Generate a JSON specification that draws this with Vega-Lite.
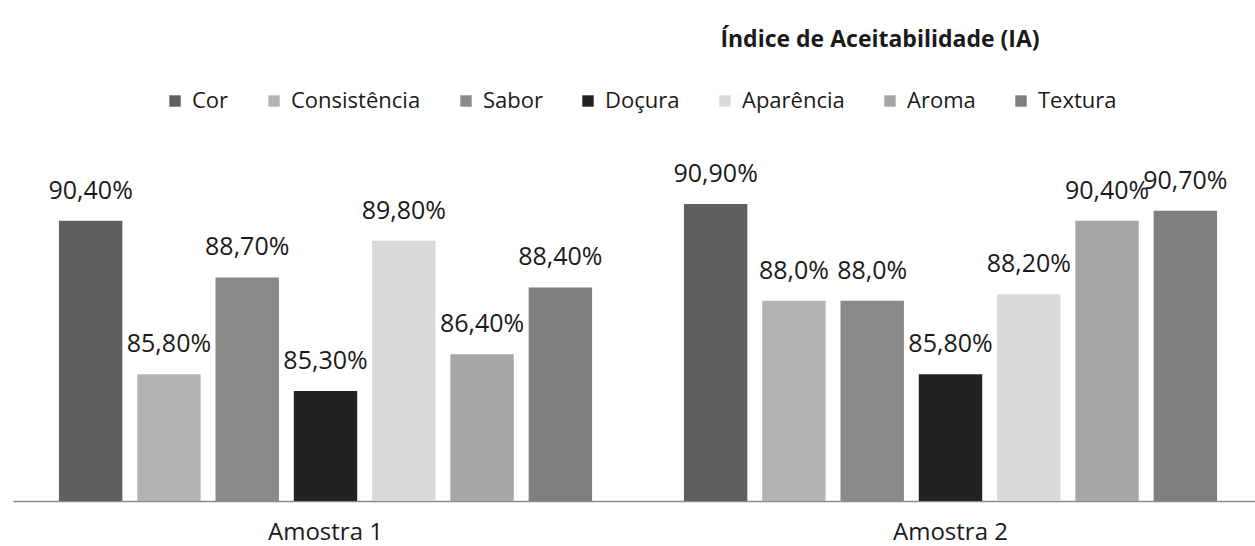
{
  "$schema": "https://vega.github.io/schema/vega-lite/v6.json",
  "width": 1250,
  "height": 367,
  "autosize": {"type": "none"},
  "padding": {"left": 13, "top": 134, "right": 0, "bottom": 45},
  "background": "white",
  "title": {
    "text": "Índice de Aceitabilidade (IA)",
    "anchor": "middle",
    "frame": "group",
    "dx": 242,
    "offset": 38,
    "font": "Open Sans",
    "fontSize": 23,
    "fontWeight": "bold",
    "color": "#1a1a1a"
  },
  "data": {
    "values": [
      {"amostra": "Amostra 1", "atributo": "Cor", "valor": 90.4, "rotulo": "90,40%"},
      {"amostra": "Amostra 1", "atributo": "Consistência", "valor": 85.8, "rotulo": "85,80%"},
      {"amostra": "Amostra 1", "atributo": "Sabor", "valor": 88.7, "rotulo": "88,70%"},
      {"amostra": "Amostra 1", "atributo": "Doçura", "valor": 85.3, "rotulo": "85,30%"},
      {"amostra": "Amostra 1", "atributo": "Aparência", "valor": 89.8, "rotulo": "89,80%"},
      {"amostra": "Amostra 1", "atributo": "Aroma", "valor": 86.4, "rotulo": "86,40%"},
      {"amostra": "Amostra 1", "atributo": "Textura", "valor": 88.4, "rotulo": "88,40%"},
      {"amostra": "Amostra 2", "atributo": "Cor", "valor": 90.9, "rotulo": "90,90%"},
      {"amostra": "Amostra 2", "atributo": "Consistência", "valor": 88.0, "rotulo": "88,0%"},
      {"amostra": "Amostra 2", "atributo": "Sabor", "valor": 88.0, "rotulo": "88,0%"},
      {"amostra": "Amostra 2", "atributo": "Doçura", "valor": 85.8, "rotulo": "85,80%"},
      {"amostra": "Amostra 2", "atributo": "Aparência", "valor": 88.2, "rotulo": "88,20%"},
      {"amostra": "Amostra 2", "atributo": "Aroma", "valor": 90.4, "rotulo": "90,40%"},
      {"amostra": "Amostra 2", "atributo": "Textura", "valor": 90.7, "rotulo": "90,70%"}
    ]
  },
  "encoding": {
    "x": {
      "field": "amostra",
      "type": "nominal",
      "scale": {"paddingInner": 0.147, "paddingOuter": 0.0735},
      "axis": {
        "title": null,
        "labelAngle": 0,
        "ticks": false,
        "domainColor": "#8c8c8c",
        "domainWidth": 1.5,
        "labelFont": "Open Sans",
        "labelFontSize": 24,
        "labelColor": "#1a1a1a",
        "labelPadding": 19
      }
    },
    "xOffset": {
      "field": "atributo",
      "type": "nominal",
      "sort": ["Cor", "Consistência", "Sabor", "Doçura", "Aparência", "Aroma", "Textura"],
      "scale": {"paddingInner": 0.19, "paddingOuter": 0}
    },
    "y": {
      "field": "valor",
      "type": "quantitative",
      "scale": {"domain": [82, 93], "zero": false},
      "axis": null
    }
  },
  "layer": [
    {
      "mark": {"type": "bar", "clip": true},
      "encoding": {
        "color": {
          "field": "atributo",
          "type": "nominal",
          "scale": {
            "domain": ["Cor", "Consistência", "Sabor", "Doçura", "Aparência", "Aroma", "Textura"],
            "range": ["#5f5f5f", "#b3b3b3", "#898989", "#222222", "#d9d9d9", "#a6a6a6", "#7f7f7f"]
          },
          "legend": {
            "title": null,
            "orient": "none",
            "legendX": 151,
            "legendY": -44,
            "direction": "horizontal",
            "columns": 7,
            "columnPadding": 34,
            "symbolType": "square",
            "symbolSize": 130,
            "symbolStrokeWidth": 0,
            "labelOffset": 6,
            "labelFont": "Open Sans",
            "labelFontSize": 22,
            "labelColor": "#1a1a1a",
            "labelLimit": 300
          }
        }
      }
    },
    {
      "mark": {
        "type": "text",
        "baseline": "alphabetic",
        "dy": -22,
        "font": "Open Sans",
        "fontSize": 25,
        "color": "#1a1a1a"
      },
      "encoding": {
        "text": {"field": "rotulo", "type": "nominal"}
      }
    }
  ],
  "config": {
    "view": {"stroke": null}
  }
}
